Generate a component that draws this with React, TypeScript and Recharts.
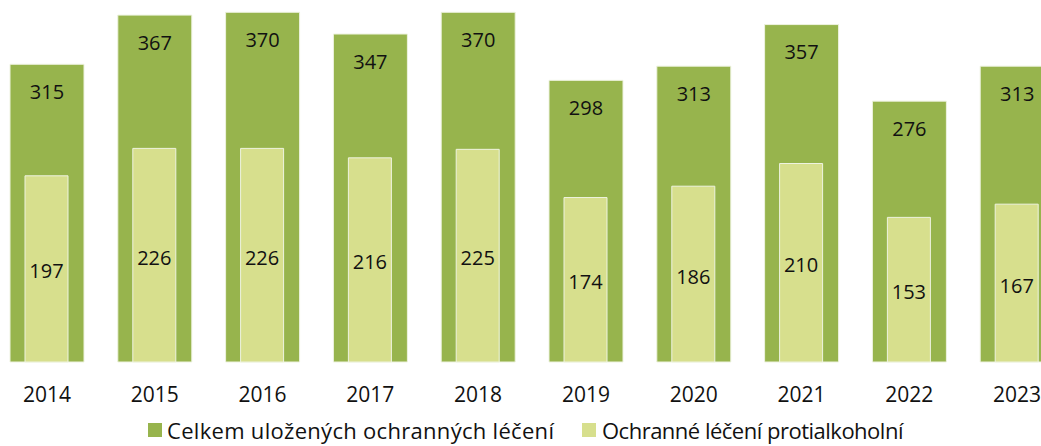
import React from 'react';
import { BarChart, Bar, XAxis, YAxis, Legend, LabelList } from 'recharts';

const years = ['2014', '2015', '2016', '2017', '2018', '2019', '2020', '2021', '2022', '2023'];
const totalValues = [315, 367, 370, 347, 370, 298, 313, 357, 276, 313];
const alcoholValues = [197, 226, 226, 216, 225, 174, 186, 210, 153, 167];
const seriesNames = ['Celkem uložených ochranných léčení', 'Ochranné léčení protialkoholní'];

const data = years.map((y, i) => ({ year: y, total: totalValues[i], alcohol: alcoholValues[i] }));

const DARK = '#97b44d';
const LIGHT = '#d7df8d';
const FONT = '"Open Sans", sans-serif';

const TopLabel = (props: any) => {
  const { x, y, width, value } = props;
  return (
    <text x={x + width / 2} y={y + 27} textAnchor="middle" dominantBaseline="central" fontSize={20} fill="#111" fontFamily={FONT}>
      {value}
    </text>
  );
};

const MidLabel = (props: any) => {
  const { x, y, width, height, value } = props;
  return (
    <text x={x + width / 2} y={y + height / 2 + 2} textAnchor="middle" dominantBaseline="central" fontSize={20} fill="#111" fontFamily={FONT}>
      {value}
    </text>
  );
};

const LegendContent = () => (
  <div style={{ position: 'relative', width: '100%', height: 44, fontFamily: FONT, fontSize: 22, lineHeight: '22px', color: '#111' }}>
    <div style={{ position: 'absolute', left: 155, top: 17, display: 'flex', alignItems: 'center', whiteSpace: 'nowrap' }}>
      <span style={{ display: 'inline-block', width: 14, height: 14, background: DARK, marginRight: 5 }} />
      <span style={{ letterSpacing: '0.3px' }}>{seriesNames[0]}</span>
    </div>
    <div style={{ position: 'absolute', left: 589, top: 17, display: 'flex', alignItems: 'center', whiteSpace: 'nowrap' }}>
      <span style={{ display: 'inline-block', width: 14, height: 14, background: LIGHT, marginRight: 6 }} />
      <span style={{ letterSpacing: '-0.5px' }}>{seriesNames[1]}</span>
    </div>
  </div>
);

export default function App() {
  return (
    <div style={{ position: 'absolute', left: 0, top: 0, width: 1041, height: 446, overflow: 'hidden', background: '#fff', fontFamily: FONT }}>
      <div style={{ position: 'absolute', left: -7, top: 0 }}>
        <BarChart width={1078} height={446} data={data} margin={{ top: 0, right: 0, bottom: 0, left: 0 }}>
          <YAxis hide domain={[0, 383]} />
          <XAxis
            dataKey="year"
            xAxisId="a"
            axisLine={false}
            tickLine={false}
            tickSize={0}
            tickMargin={25}
            height={40}
            tick={{ fontSize: 21, fill: '#111', fontFamily: FONT }}
            interval={0}
          />
          <XAxis dataKey="year" xAxisId="b" hide />
          <Legend
            verticalAlign="bottom"
            height={44}
            content={<LegendContent />}
            wrapperStyle={{ height: 44, left: 0, width: 1078 }}
          />
          <Bar dataKey="total" name={seriesNames[0]} xAxisId="a" fill={DARK} stroke="#eef3e0" strokeWidth={1} barSize={74} isAnimationActive={false}>
            <LabelList dataKey="total" content={<TopLabel />} />
          </Bar>
          <Bar dataKey="alcohol" name={seriesNames[1]} xAxisId="b" fill={LIGHT} stroke="#eef3e0" strokeWidth={1} barSize={43} isAnimationActive={false}>
            <LabelList dataKey="alcohol" content={<MidLabel />} />
          </Bar>
        </BarChart>
      </div>
    </div>
  );
}
